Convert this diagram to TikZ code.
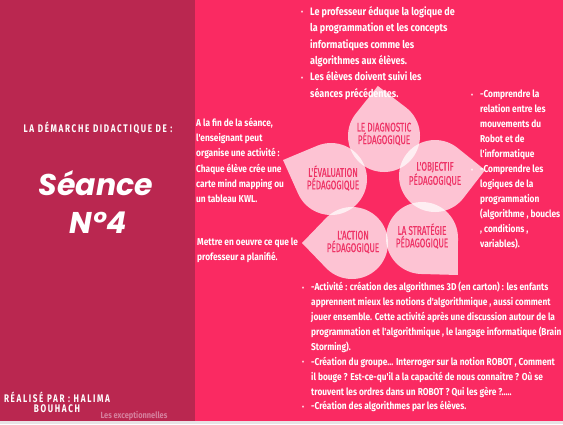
\documentclass[tikz,border=0pt]{standalone}
\usepackage{fontspec}
\setmainfont{Fira Sans}
\newfontfamily\bodyf[FakeStretch=0.835]{Fira Sans}
\newfontfamily\petalf[FakeStretch=0.65,FakeBold=0.6]{Fira Sans}
\newfontfamily\titlef[FakeStretch=0.74,LetterSpace=15]{Fira Sans}
\newfontfamily\scriptf{Poppins}
\definecolor{leftbg}{RGB}{186,39,80}
\definecolor{rightbg}{RGB}{250,42,98}
\definecolor{petaltxt}{RGB}{238,52,102}
\definecolor{stripc}{RGB}{232,226,229}
\definecolor{signc}{RGB}{214,128,158}
\tikzset{
  petal/.style={fill=white, fill opacity=0.72, draw=none},
  ptext/.style={text=petaltxt, font=\petalf\fontsize{12.5}{11.5}\selectfont, align=center, inner sep=0},
  body/.style={text=white, inner sep=0, anchor=north west, align=left},
}
\newcommand{\bl}{\makebox[9pt][l]{\raisebox{0.5pt}{\scriptsize•}}}
\begin{document}
\begin{tikzpicture}[x=1pt,y=-1pt]
\useasboundingbox (0,0) rectangle (563,424);
% backgrounds
\fill[rightbg] (0,0) rectangle (563,424);
\fill[leftbg] (0,0) rectangle (195,424);
\fill[stripc] (0,421) rectangle (563,424);
% petals: centre, tip angle (screen, clockwise), tip distance
\fill[petal, shift={(384,136)}] (263+46:36) arc[start angle=263+46, end angle=263+314, radius=36] -- (263:50.4) -- cycle;
\fill[petal, shift={(331,179)}] (201.6+46:36) arc[start angle=201.6+46, end angle=201.6+314, radius=36] -- (201.6:51.6) -- cycle;
\fill[petal, shift={(435,176)}] (-6.8+46:36) arc[start angle=-6.8+46, end angle=-6.8+314, radius=36] -- (-6.8:50.4) -- cycle;
\fill[petal, shift={(422,238)}] (45.8+46:36) arc[start angle=45.8+46, end angle=45.8+314, radius=36] -- (45.8:51.6) -- cycle;
\fill[petal, shift={(352,243)}] (180+46:36) arc[start angle=180+46, end angle=180+314, radius=36] -- (180:50) -- cycle;
% petal labels
\node[ptext] (diag) at (384,134) {LE DIAGNOSTIC\\PÉDAGOGIQUE};
\node[ptext] (eval) at (333,178) {L'ÉVALUATION\\PÉDAGOGIQUE};
\node[ptext] (obj) at (435,174) {L'OBJECTIF\\PÉDAGOGIQUE};
\node[ptext] (strat) at (422,236) {LA STRATÉGIE\\PÉDAGOGIQUE};
\node[ptext] (act) at (353,242) {L'ACTION\\PÉDAGOGIQUE};
% left panel
\node[text=white, font=\titlef\bfseries\fontsize{11}{12}\selectfont, inner sep=0] (titre) at (98,128) {LA DÉMARCHE DIDACTIQUE DE :};
\node[text=white, font=\scriptf\bfseries\itshape\fontsize{30}{30}\selectfont, inner sep=0] (seance) at (96,183) {Séance};
\node[text=white, font=\scriptf\bfseries\itshape\fontsize{30}{30}\selectfont, inner sep=0] (num) at (98,223) {N°4};
\node[text=white, font=\titlef\bfseries\fontsize{11}{10}\selectfont, align=center, inner sep=0] (auteur) at (57,402) {RÉALISÉ PAR : HALIMA\\BOUHACH};
\node[text=signc, font=\bodyf\bfseries\fontsize{8.9}{9}\selectfont, inner sep=0] (sign) at (134,416) {Les exceptionnelles};
% text blocks
\node[body, font=\bodyf\bfseries\fontsize{10.8}{16.4}\selectfont] (haut) at (301,6) {%
\bl Le professeur éduque la logique de\\
\hspace*{9pt}la programmation et les concepts\\
\hspace*{9pt}informatiques comme les\\
\hspace*{9pt}algorithmes aux élèves.\\
\bl Les élèves doivent suivi les\\
\hspace*{9pt}séances précédentes.};
\node[body, font=\bodyf\bfseries\fontsize{10}{15.2}\selectfont] (gauche) at (196,118) {%
A la fin de la séance,\\
l'enseignant peut\\
organise une activité :\\
Chaque élève crée une\\
carte mind mapping ou\\
un tableau KWL.};
\node[body, font=\bodyf\bfseries\fontsize{10}{15}\selectfont] (mettre) at (197,238) {%
Mettre en oeuvre ce que le\\
professeur a planifié.};
\node[body, font=\bodyf\bfseries\fontsize{10}{15}\selectfont] (droite) at (471,90) {%
\bl -Comprendre la\\
\hspace*{9pt}relation entre les\\
\hspace*{9pt}mouvements du\\
\hspace*{9pt}Robot et de\\
\hspace*{9pt}l'informatique\\
\bl -Comprendre les\\
\hspace*{9pt}logiques de la\\
\hspace*{9pt}programmation\\
\hspace*{9pt}(algorithme , boucles\\
\hspace*{9pt}, conditions ,\\
\hspace*{9pt}variables).};
\node[body, font=\bodyf\bfseries\fontsize{10}{14.9}\selectfont] (bas) at (302,282) {%
\bl -Activité : création des algorithmes 3D (en carton) : les enfants\\
\hspace*{9pt}apprennent mieux les notions d'algorithmique , aussi comment\\
\hspace*{9pt}jouer ensemble. Cette activité après une discussion autour de la\\
\hspace*{9pt}programmation et l'algorithmique , le langage informatique (Brain\\
\hspace*{9pt}Storming).\\
\bl -Création du groupe... Interroger sur la notion ROBOT , Comment\\
\hspace*{9pt}il bouge ? Est-ce-qu'il a la capacité de nous connaitre ? Où se\\
\hspace*{9pt}trouvent les ordres dans un ROBOT ? Qui les gère ?.....\\
\bl -Création des algorithmes par les élèves.};
\end{tikzpicture}
\end{document}
